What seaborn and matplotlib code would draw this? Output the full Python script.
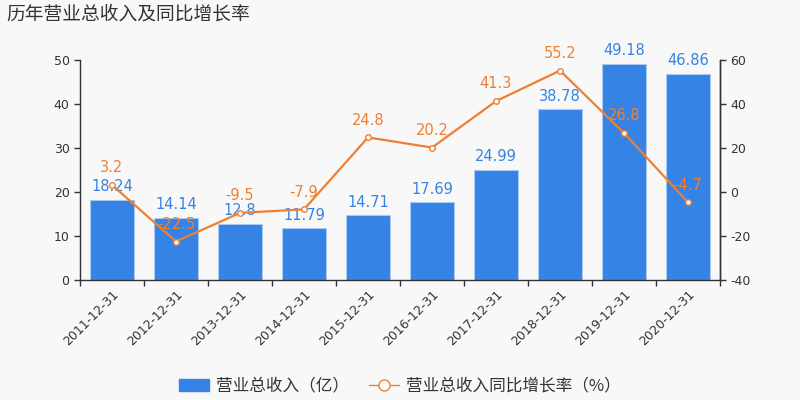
import numpy as np
import pandas as pd
import matplotlib
matplotlib.use("Agg")
import matplotlib.pyplot as plt
from matplotlib.ticker import FixedLocator
import seaborn as sns

dates = ["2011-12-31", "2012-12-31", "2013-12-31", "2014-12-31", "2015-12-31",
         "2016-12-31", "2017-12-31", "2018-12-31", "2019-12-31", "2020-12-31"]
revenue = [18.24, 14.14, 12.8, 11.79, 14.71, 17.69, 24.99, 38.78, 49.18, 46.86]
growth = [3.2, -22.5, -9.5, -7.9, 24.8, 20.2, 41.3, 55.2, 26.8, -4.7]

bar_color = "#3583e4"
line_color = "#f07f32"
bg = "#f8f8f8"

sns.set_theme(style="ticks")
plt.rcParams["font.family"] = ["Noto Sans CJK SC", "DejaVu Sans"]
plt.rcParams["axes.unicode_minus"] = False

df = pd.DataFrame({"date": dates, "revenue": revenue, "growth": growth})

fig = plt.figure(figsize=(8, 4), dpi=100, facecolor=bg)
ax = fig.add_axes([0.1, 0.3, 0.8, 0.55], facecolor=bg)

sns.barplot(data=df, x="date", y="revenue", color=bar_color, saturation=1,
            width=0.7, edgecolor="#a9c9f2", linewidth=0.8, ax=ax)
ax.set_ylim(0, 50)
ax.set_xlim(-0.5, len(dates) - 0.5)
ax.set_yticks([0, 10, 20, 30, 40, 50])
ax.set_xlabel("")
ax.set_ylabel("")

for i, v in enumerate(revenue):
    ax.annotate(f"{v:g}", (i, v), xytext=(0, 4), textcoords="offset points",
                ha="center", va="bottom", color=bar_color, fontsize=10.5,
                family="DejaVu Sans")

ax2 = ax.twinx()
x_pos = np.arange(len(dates))
sns.lineplot(x=x_pos, y=growth, color=line_color, linewidth=1.6, marker="o",
             markersize=4, markerfacecolor="white", markeredgecolor=line_color,
             markeredgewidth=1, ax=ax2)
ax2.set_ylim(-40, 60)
ax2.set_yticks([-40, -20, 0, 20, 40, 60])
ax2.set_xlim(-0.5, len(dates) - 0.5)

for i, v in enumerate(growth):
    ax2.annotate(f"{v:g}", (i, v), xytext=(0, 7), textcoords="offset points",
                 ha="center", va="bottom", color=line_color, fontsize=10.5,
                 family="DejaVu Sans")

for a in (ax, ax2):
    a.spines["top"].set_visible(False)
    for s in a.spines.values():
        s.set_color("#333333")
        s.set_linewidth(1)
    a.tick_params(axis="y", colors="#333333", labelsize=9, length=4, width=1)
    a.grid(False)
ax2.spines["left"].set_visible(False)
ax2.spines["bottom"].set_visible(False)

ax.set_xticks(range(len(dates)))
ax.set_xticklabels(dates, rotation=45, ha="right", rotation_mode="anchor",
                   fontsize=9, color="#333333", family="DejaVu Sans")
ax.tick_params(axis="x", which="major", length=0, pad=6)
ax.xaxis.set_minor_locator(FixedLocator(np.arange(-0.5, len(dates), 1)))
ax.tick_params(axis="x", which="minor", length=4, width=1, color="#333333")
for lab in ax.get_yticklabels() + ax2.get_yticklabels():
    lab.set_family("DejaVu Sans")

fig.text(0.008, 0.965, "历年营业总收入及同比增长率", fontsize=13.5, color="#333333",
         ha="left", va="center")

bar_handle = matplotlib.patches.FancyBboxPatch((0, 0), 1, 1, color=bar_color)
line_handle = matplotlib.lines.Line2D([], [], color=line_color, marker="o",
                                      markerfacecolor="white", markersize=8,
                                      linewidth=1)
fig.legend([bar_handle, line_handle], ["营业总收入（亿）", "营业总收入同比增长率（%）"],
           loc="center", bbox_to_anchor=(0.5, 0.035), ncol=2, frameon=False,
           fontsize=12, labelcolor="#333333", handlelength=1.8,
           columnspacing=1.2, handletextpad=0.4)

fig.savefig("out.png", dpi=100, facecolor=bg)
